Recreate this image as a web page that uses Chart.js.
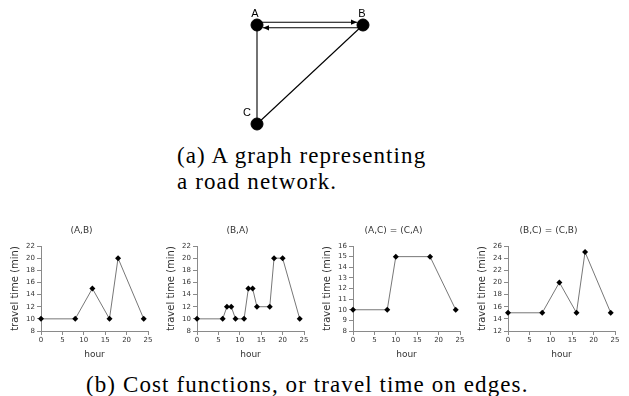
<!DOCTYPE html>
<html>
<head>
<meta charset="utf-8">
<script src="https://cdn.jsdelivr.net/npm/chart.js@4"></script>
<style>
  body { margin: 0; background: #fff; width: 629px; height: 396px; overflow: hidden; position: relative; }
  canvas { position: absolute; }
  .cap { position: absolute; font-family: "Liberation Serif", serif; font-size: 23px; line-height: 26px; letter-spacing: 1.1px; color: #000; white-space: nowrap; }
</style>
</head>
<body>
<canvas id="graph" width="220" height="140" style="left:200px;top:0"></canvas>
<div class="cap" style="left:177px;top:143px">(a) A graph representing<br>a road network.</div>

<canvas id="c0" width="164" height="141" style="left:0px;top:222px"></canvas>
<canvas id="c1" width="164" height="141" style="left:156px;top:222px"></canvas>
<canvas id="c2" width="164" height="141" style="left:312px;top:222px"></canvas>
<canvas id="c3" width="164" height="141" style="left:467px;top:222px"></canvas>

<div class="cap" style="left:86px;top:372px">(b) Cost functions, or travel time on edges.</div>

<script>
(function () {
  "use strict";

  // graph nodes (abstract layout coords) and directed/undirected edges
  const NODE_NAMES = ["A", "B", "C"];
  const NODE_X = [0, 1, 0];
  const NODE_Y = [1, 1, 0];
  const EDGES = [["A", "C"], ["B", "C"], ["A", "B"], ["B", "A"]];
  const ARROWED = [false, false, true, true];

  // cost functions: hour -> travel time (min)
  const HOURS_AB = [0, 8, 12, 16, 18, 24];
  const TIME_AB = [10, 10, 15, 10, 20, 10];
  const HOURS_BA = [0, 6, 7, 8, 9, 11, 12, 13, 14, 17, 18, 20, 24];
  const TIME_BA = [10, 10, 12, 12, 10, 10, 15, 15, 12, 12, 20, 20, 10];
  const HOURS_AC = [0, 8, 10, 18, 24];
  const TIME_AC = [10, 10, 15, 15, 10];
  const HOURS_BC = [0, 8, 12, 16, 18, 24];
  const TIME_BC = [15, 15, 20, 15, 25, 15];

  const TITLES = ["(A,B)", "(B,A)", "(A,C) = (C,A)", "(B,C) = (C,B)"];
  const X_TICKS = { min: 0, max: 25, step: 5 };
  const Y_MIN = [8, 8, 8, 12];
  const Y_MAX = [22, 22, 16, 26];
  const Y_STEP = [2, 2, 1, 2];

  const FONT = "DejaVu Sans";
  const AXIS = "#8a8a8a";
  const TEXT = "#333";

  Chart.defaults.font.family = FONT;
  Chart.defaults.animation = false;

  // ---- graph (a) ----
  const LABEL_OFFSET = { A: [-2, -11], B: [-1, -11], C: [-10, -11] };

  const edgePlugin = {
    id: "edges",
    beforeDatasetsDraw(chart) {
      const ctx = chart.ctx;
      const xs = chart.scales.x, ys = chart.scales.y;
      const pos = {};
      NODE_NAMES.forEach((n, i) => {
        pos[n] = [xs.getPixelForValue(NODE_X[i]), ys.getPixelForValue(NODE_Y[i])];
      });
      ctx.save();
      ctx.strokeStyle = "#000";
      ctx.fillStyle = "#000";
      ctx.lineWidth = 1.1;
      EDGES.forEach((e, k) => {
        let [x1, y1] = pos[e[0]];
        let [x2, y2] = pos[e[1]];
        if (ARROWED[k]) {
          const dx = x2 - x1, dy = y2 - y1, len = Math.hypot(dx, dy);
          const ux = dx / len, uy = dy / len;
          // shift parallel edges apart (left of travel direction)
          const nx = uy * 2.8, ny = -ux * 2.8;
          x1 += nx; y1 += ny; x2 += nx; y2 += ny;
          const tipX = x2 - ux * 6, tipY = y2 - uy * 6;
          ctx.beginPath();
          ctx.moveTo(x1 + ux * 5, y1 + uy * 5);
          ctx.lineTo(tipX, tipY);
          ctx.stroke();
          ctx.beginPath();
          ctx.moveTo(tipX, tipY);
          ctx.lineTo(tipX - ux * 6 - uy * 2.6, tipY - uy * 6 + ux * 2.6);
          ctx.lineTo(tipX - ux * 6 + uy * 2.6, tipY - uy * 6 - ux * 2.6);
          ctx.closePath();
          ctx.fill();
        } else {
          ctx.beginPath();
          ctx.moveTo(x1, y1);
          ctx.lineTo(x2, y2);
          ctx.stroke();
        }
      });
      ctx.font = "11px 'Liberation Sans', Arial, sans-serif";
      ctx.textAlign = "center";
      ctx.textBaseline = "middle";
      NODE_NAMES.forEach((n) => {
        const o = LABEL_OFFSET[n];
        ctx.fillText(n, pos[n][0] + o[0], pos[n][1] + o[1]);
      });
      ctx.restore();
    },
  };

  new Chart(document.getElementById("graph"), {
    type: "scatter",
    data: {
      datasets: [{
        data: NODE_NAMES.map((n, i) => ({ x: NODE_X[i], y: NODE_Y[i] })),
        backgroundColor: "#000",
        borderColor: "#000",
        pointRadius: 6,
        clip: false,
      }],
    },
    options: {
      responsive: false,
      devicePixelRatio: 1,
      layout: { padding: { left: 57, right: 57, top: 25, bottom: 16 } },
      plugins: { legend: { display: false }, tooltip: { enabled: false } },
      scales: {
        x: { display: false, min: 0, max: 1 },
        y: { display: false, min: 0, max: 1 },
      },
    },
    plugins: [edgePlugin],
  });

  // ---- cost function charts (b) ----
  // the panel titles sit a little left of the plot centre (centred over the whole panel)
  const titleShift = {
    id: "titleShift",
    afterLayout(chart) {
      const t = chart.titleBlock;
      if (!t) return;
      const want = chart.chartArea.left + 40.5;
      const d = want - (t.left + t.right) / 2;
      t.left += d;
      t.right += d;
    },
  };

  function costChart(canvasId, idx, hours, times) {
    const el = document.getElementById(canvasId);
    if (!el || typeof Chart === "undefined") return;
    new Chart(el, {
      type: "line",
      data: {
        datasets: [{
          data: hours.map((h, i) => ({ x: h, y: times[i] })),
          borderColor: "#777",
          borderWidth: 1,
          pointStyle: "rectRot",
          pointRadius: 3,
          pointBackgroundColor: "#000",
          pointBorderColor: "#000",
          pointBorderWidth: 0,
          tension: 0,
          clip: false,
        }],
      },
      options: {
        responsive: false,
        devicePixelRatio: 1,
        layout: { padding: { left: 0, right: 16, top: 0, bottom: 0 } },
        plugins: {
          legend: { display: false },
          tooltip: { enabled: false },
          title: {
            display: true,
            text: TITLES[idx],
            color: TEXT,
            font: { size: 9, weight: "normal", family: FONT },
            padding: { top: 3.6, bottom: 9.6 },
          },
        },
        scales: {
          x: {
            type: "linear",
            min: X_TICKS.min,
            max: X_TICKS.max,
            afterFit: (s) => { s.height = 32; },
            ticks: { stepSize: X_TICKS.step, padding: 1, color: TEXT, font: { size: 7 }, autoSkip: false, maxRotation: 0 },
            grid: { drawOnChartArea: false, drawTicks: true, tickLength: 4, color: AXIS },
            border: { color: AXIS, width: 1 },
            title: { display: true, text: "hour", color: TEXT, font: { size: 9 }, padding: { top: 0, bottom: 2.6 } },
          },
          y: {
            min: Y_MIN[idx],
            max: Y_MAX[idx],
            afterFit: (s) => { s.width = 41; },
            ticks: { stepSize: Y_STEP[idx], padding: 2, color: TEXT, font: { size: 7 }, autoSkip: false },
            grid: { drawOnChartArea: false, drawTicks: true, tickLength: 4, color: AXIS },
            border: { color: AXIS, width: 1 },
            title: { display: true, text: "travel time (min)", color: TEXT, font: { size: 10 }, padding: { top: 9, bottom: 0 } },
          },
        },
      },
      plugins: [titleShift],
    });
  }

  costChart("c0", 0, HOURS_AB, TIME_AB);
  costChart("c1", 1, HOURS_BA, TIME_BA);
  costChart("c2", 2, HOURS_AC, TIME_AC);
  costChart("c3", 3, HOURS_BC, TIME_BC);
})();
</script>
</body>
</html>
